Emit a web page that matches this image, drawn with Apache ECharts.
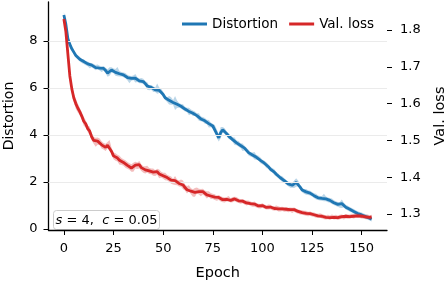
<!DOCTYPE html>
<html><head><meta charset="utf-8">
<script src="https://cdn.jsdelivr.net/npm/echarts@6/dist/echarts.min.js"></script>
<style>html,body{margin:0;padding:0;background:#fff}#c{width:448px;height:284px}</style>
</head><body><div id="c"></div>
<script>
// Distortion (left axis), one value per epoch 0..155
const distortion = [
9.10,8.70,8.10,7.85,7.66,7.52,7.38,7.30,7.22,7.15,
7.12,7.05,7.02,6.95,6.97,6.91,6.86,6.90,6.84,6.80,
6.83,6.74,6.63,6.70,6.76,6.72,6.66,6.69,6.60,6.58,
6.55,6.52,6.44,6.36,6.40,6.43,6.41,6.35,6.30,6.31,
6.27,6.18,6.08,6.00,6.02,5.95,5.92,5.97,5.90,5.86,
5.72,5.58,5.50,5.47,5.44,5.38,5.36,5.30,5.26,5.22,
5.18,5.10,5.06,5.00,4.98,4.92,4.90,4.82,4.76,4.68,
4.66,4.60,4.55,4.48,4.43,4.38,4.30,4.05,3.88,4.10,
4.22,4.18,4.05,3.95,3.88,3.80,3.73,3.66,3.62,3.55,
3.48,3.44,3.36,3.25,3.18,3.15,3.12,3.05,3.02,2.92,
2.85,2.80,2.72,2.65,2.55,2.50,2.42,2.33,2.26,2.18,
2.12,2.06,1.98,1.92,1.88,1.86,1.90,1.98,1.94,1.78,
1.66,1.60,1.58,1.55,1.53,1.48,1.42,1.38,1.33,1.31,
1.30,1.34,1.28,1.24,1.22,1.18,1.12,1.08,1.05,1.03,
1.08,1.02,0.93,0.89,0.84,0.80,0.75,0.70,0.66,0.62,
0.60,0.56,0.53,0.50,0.46,0.42];
// half-width of the shaded band around Distortion
const distortionSpread = [
0.12,0.12,0.12,0.10,0.10,0.09,0.09,0.09,0.10,0.09,
0.10,0.09,0.10,0.12,0.09,0.10,0.11,0.09,0.10,0.12,
0.10,0.12,0.16,0.18,0.12,0.10,0.14,0.20,0.12,0.10,
0.10,0.11,0.12,0.16,0.10,0.10,0.18,0.10,0.10,0.11,
0.12,0.10,0.16,0.10,0.10,0.12,0.10,0.22,0.12,0.10,
0.12,0.10,0.10,0.18,0.16,0.10,0.30,0.16,0.10,0.10,
0.12,0.10,0.10,0.16,0.10,0.12,0.10,0.10,0.16,0.10,
0.10,0.12,0.10,0.16,0.10,0.10,0.12,0.18,0.16,0.24,
0.12,0.10,0.10,0.12,0.10,0.10,0.16,0.10,0.12,0.10,
0.16,0.10,0.10,0.12,0.10,0.10,0.16,0.10,0.10,0.12,
0.10,0.10,0.12,0.10,0.10,0.10,0.12,0.10,0.10,0.10,
0.12,0.10,0.10,0.10,0.12,0.10,0.16,0.18,0.12,0.10,
0.10,0.10,0.12,0.10,0.10,0.10,0.10,0.12,0.10,0.10,
0.10,0.16,0.10,0.10,0.10,0.12,0.10,0.10,0.10,0.12,
0.18,0.10,0.10,0.10,0.10,0.10,0.10,0.10,0.10,0.10,
0.10,0.10,0.10,0.10,0.10,0.10];
// Validation loss (right axis), one value per epoch 0..155
const valLoss = [
1.830,1.795,1.735,1.675,1.640,1.615,1.600,1.588,1.578,1.566,
1.552,1.545,1.532,1.525,1.510,1.500,1.495,1.498,1.496,1.488,
1.484,1.481,1.487,1.489,1.470,1.458,1.455,1.452,1.446,1.443,
1.440,1.436,1.432,1.429,1.425,1.427,1.433,1.431,1.434,1.426,
1.421,1.420,1.422,1.417,1.416,1.414,1.411,1.415,1.409,1.407,
1.404,1.402,1.399,1.396,1.392,1.388,1.391,1.386,1.383,1.384,
1.379,1.372,1.366,1.370,1.362,1.357,1.359,1.364,1.361,1.358,
1.361,1.356,1.352,1.354,1.349,1.348,1.346,1.343,1.345,1.341,
1.339,1.338,1.340,1.342,1.337,1.339,1.341,1.339,1.336,1.334,
1.335,1.332,1.330,1.331,1.328,1.326,1.327,1.324,1.322,1.321,
1.323,1.320,1.318,1.319,1.319,1.316,1.315,1.317,1.314,1.313,
1.314,1.312,1.313,1.311,1.312,1.310,1.312,1.309,1.307,1.305,
1.304,1.303,1.302,1.300,1.301,1.299,1.298,1.296,1.295,1.296,
1.294,1.292,1.291,1.292,1.290,1.293,1.291,1.292,1.290,1.292,
1.293,1.291,1.294,1.293,1.293,1.295,1.294,1.296,1.295,1.295,
1.294,1.293,1.292,1.293,1.291,1.292];
// half-width of the shaded band around Val. loss
const valLossSpread = [
0.006,0.008,0.010,0.012,0.012,0.012,0.014,0.012,0.010,0.010,
0.012,0.010,0.009,0.012,0.010,0.009,0.012,0.010,0.009,0.010,
0.009,0.010,0.009,0.012,0.010,0.009,0.010,0.009,0.012,0.009,
0.009,0.010,0.009,0.009,0.010,0.012,0.009,0.009,0.010,0.009,
0.009,0.010,0.009,0.008,0.008,0.010,0.008,0.008,0.012,0.008,
0.008,0.010,0.008,0.008,0.010,0.008,0.012,0.008,0.008,0.010,
0.012,0.008,0.010,0.008,0.008,0.010,0.012,0.008,0.008,0.010,
0.008,0.008,0.010,0.008,0.008,0.007,0.008,0.007,0.007,0.007,
0.007,0.007,0.006,0.007,0.006,0.007,0.006,0.007,0.006,0.006,
0.006,0.006,0.007,0.006,0.006,0.006,0.007,0.006,0.006,0.006,
0.006,0.006,0.006,0.007,0.006,0.006,0.006,0.006,0.007,0.006,
0.006,0.006,0.006,0.006,0.006,0.007,0.006,0.006,0.006,0.006,
0.006,0.006,0.007,0.006,0.006,0.006,0.006,0.006,0.006,0.006,
0.006,0.006,0.006,0.006,0.006,0.006,0.006,0.006,0.006,0.006,
0.006,0.006,0.006,0.006,0.006,0.006,0.006,0.006,0.006,0.006,
0.006,0.006,0.006,0.006,0.006,0.006];

const xTicks = [0, 25, 50, 75, 100, 125, 150];
const leftTicks = [0, 2, 4, 6, 8];
const rightTicks = [1.3, 1.4, 1.5, 1.6, 1.7, 1.8];
const annotation = ['s', '4', 'c', '0.05'];

const BLUE = '#1f77b4', RED = '#d62728';
const FONT = 'DejaVu Sans';
const epochs = distortion.map((_, i) => i);
const pair = (arr) => arr.map((v, i) => [epochs[i], v]);
const bandRows = (v, s) => v.map((x, i) => [epochs[i], x - s[i], x + s[i]]);

function bandSeries(rows, yIdx, fill, z) {
  return {
    type: 'custom', yAxisIndex: yIdx, data: rows, z: z, silent: true,
    encode: {x: 0, y: [1, 2]},
    renderItem: function (params, api) {
      if (params.dataIndex !== 0) return null;
      const top = [], bot = [];
      for (let i = 0; i < rows.length; i++) {
        top.push(api.coord([rows[i][0], rows[i][2]]));
        bot.push(api.coord([rows[i][0], rows[i][1]]));
      }
      const cs = params.coordSys;
      return {type: 'polygon', shape: {points: top.concat(bot.reverse())}, style: {fill: fill}, silent: true,
              clipPath: {type: 'rect', shape: {x: cs.x, y: cs.y, width: cs.width, height: cs.height}}};
    }
  };
}

const chart = echarts.init(document.getElementById('c'), null, {renderer: 'canvas'});
const tickLabel = {fontFamily: FONT, fontSize: 13, color: '#000'};
chart.setOption({
  animation: false,
  grid: {left: 48.5, right: 61, top: 2, bottom: 54, containLabel: false, outerBoundsMode: 'none'},
  legend: {
    data: ['Distortion', 'Val. loss'], right: 69, top: 12,
    icon: 'rect', itemWidth: 25, itemHeight: 3, itemGap: 11,
    textStyle: {fontFamily: FONT, fontSize: 13.5, color: '#000'}
  },
  xAxis: {
    type: 'value', min: -7.75, max: 162.75,
    name: 'Epoch', nameLocation: 'middle', nameGap: 36,
    nameTextStyle: {fontFamily: FONT, fontSize: 14.5, color: '#000'},
    axisLine: {onZero: false, lineStyle: {color: '#000', width: 1.3}},
    axisTick: {show: true, length: 5, lineStyle: {color: '#000', width: 1}, customValues: xTicks},
    axisLabel: Object.assign({margin: 12, customValues: xTicks}, tickLabel),
    splitLine: {show: false}
  },
  yAxis: [{
    type: 'value', min: -0.04, max: 9.65, position: 'left',
    name: 'Distortion', nameLocation: 'middle', nameGap: 32, nameRotate: 90,
    nameTextStyle: {fontFamily: FONT, fontSize: 14, color: '#000'},
    axisLine: {show: true, onZero: false, lineStyle: {color: '#000', width: 1.3}},
    axisTick: {show: true, length: 5, lineStyle: {color: '#000', width: 1}, customValues: leftTicks},
    axisLabel: Object.assign({margin: 11, customValues: leftTicks}, tickLabel),
    splitLine: {show: false}
  }, {
    type: 'value', min: 1.2566, max: 1.876, position: 'right',
    name: 'Val. loss', nameLocation: 'middle', nameGap: 46, nameRotate: 90,
    nameTextStyle: {fontFamily: FONT, fontSize: 14.5, color: '#000'},
    axisLine: {show: false, onZero: false},
    axisTick: {show: true, length: 5, lineStyle: {color: '#000', width: 1}, customValues: rightTicks},
    axisLabel: Object.assign({margin: 13, customValues: rightTicks, formatter: v => v.toFixed(1)}, tickLabel),
    splitLine: {show: false}
  }],
  series: [
    {type: 'line', name: 'grid', yAxisIndex: 0, data: [], z: 0, silent: true,
     markLine: {silent: true, symbol: 'none', label: {show: false}, animation: false,
       lineStyle: {color: '#ebebeb', width: 1, type: 'solid'},
       data: leftTicks.filter(t => t > 0).map(t => [{coord: [-7.75, t]}, {coord: [162.75, t]}])}},
    bandSeries(bandRows(distortion, distortionSpread), 0, 'rgba(31,119,180,0.3)', 1),
    {type: 'line', name: 'Distortion', yAxisIndex: 0, data: pair(distortion),
     symbol: 'none', lineStyle: {color: BLUE, width: 2.8}, itemStyle: {color: BLUE}, z: 3},
    bandSeries(bandRows(valLoss, valLossSpread), 1, 'rgba(214,39,40,0.3)', 4),
    {type: 'line', name: 'Val. loss', yAxisIndex: 1, data: pair(valLoss),
     symbol: 'none', lineStyle: {color: RED, width: 2.8}, itemStyle: {color: RED}, z: 6}
  ],
  graphic: [{
    type: 'group', left: 53, top: 210, z: 100,
    children: [
      {type: 'rect', shape: {x: 0, y: 0, width: 106, height: 19, r: 3},
       style: {fill: 'rgba(255,255,255,0.8)', stroke: '#cccccc', lineWidth: 1}},
      {type: 'text', x: 53, y: 10,
       style: {
         text: '{i|' + annotation[0] + '}{n| = ' + annotation[1] + ',  }{i|' + annotation[2] + '}{n| = ' + annotation[3] + '}',
         align: 'center', verticalAlign: 'middle',
         rich: {
           i: {fontFamily: FONT, fontStyle: 'italic', fontSize: 13, fill: '#000'},
           n: {fontFamily: FONT, fontSize: 13, fill: '#000'}
         }
       }}
    ]
  }]
});
</script></body></html>
